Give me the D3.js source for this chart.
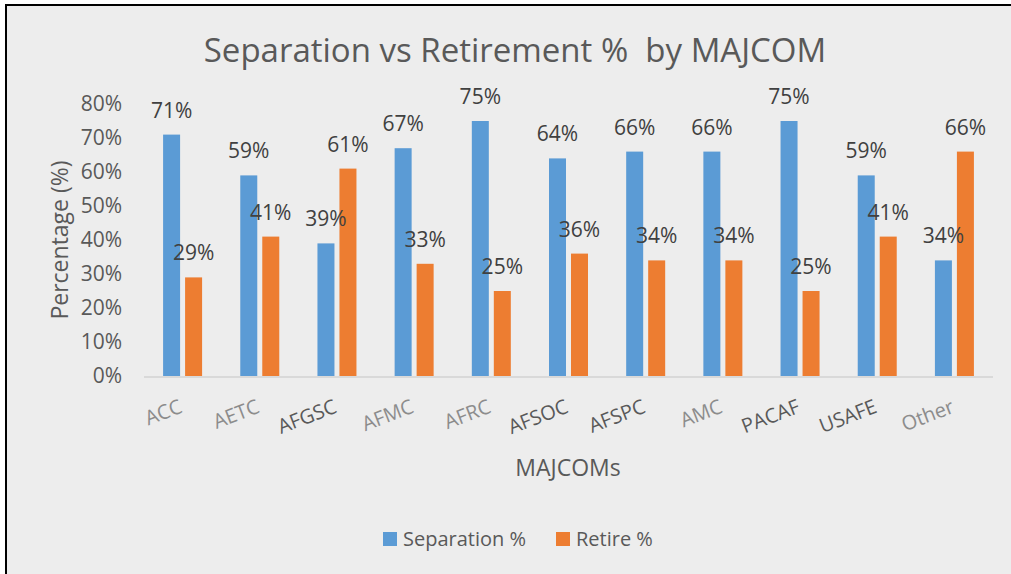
<!DOCTYPE html>
<html>
<head>
<meta charset="utf-8">
<script src="https://cdn.jsdelivr.net/npm/d3@7"></script>
<style>
  body { margin: 0; background: #fff; }
  text { font-family: "Open Sans", "Noto Sans", sans-serif; }
</style>
</head>
<body>
<svg id="chart"></svg>
<script>
const majcoms = ["ACC", "AETC", "AFGSC", "AFMC", "AFRC", "AFSOC", "AFSPC", "AMC", "PACAF", "USAFE", "Other"];
const separation = [0.71, 0.59, 0.39, 0.67, 0.75, 0.64, 0.66, 0.66, 0.75, 0.59, 0.34];
const retire = [0.29, 0.41, 0.61, 0.33, 0.25, 0.36, 0.34, 0.34, 0.25, 0.41, 0.66];
const seriesNames = ["Separation %", "Retire %"];
const yTicks = [0, 0.1, 0.2, 0.3, 0.4, 0.5, 0.6, 0.7, 0.8];

const width = 1011;
const height = 574;
const colors = { "Separation %": "#5b9bd5", "Retire %": "#ed7d31" };
// labels that came out lighter in the original picture
const lightLabels = ["ACC", "AETC", "AFMC", "AFRC", "AMC", "Other"];

let svg = d3.select("#chart").attr("width", width).attr("height", height);

// frame
svg.append("rect").attr("x", 6).attr("y", 5).attr("width", width - 6).attr("height", height - 5).attr("fill", "#ededed");
svg.append("line").attr("x1", 6).attr("x2", 6).attr("y1", 4).attr("y2", height).attr("stroke", "#000").attr("stroke-width", 2);
svg.append("line").attr("x1", 5).attr("x2", width).attr("y1", 5).attr("y2", 5).attr("stroke", "#000").attr("stroke-width", 2);

let rows = majcoms.map((m, i) => ({ name: m, values: [
  { key: "Separation %", value: separation[i] },
  { key: "Retire %", value: retire[i] }
]}));

let x = d3.scaleBand().domain(majcoms).range([144, 993]);
let x1 = d3.scaleBand().domain(seriesNames)
  .range([x.bandwidth() / 2 - 19.5, x.bandwidth() / 2 + 19.5])
  .paddingInner(0.2273);
let y = d3.scaleLinear().domain([0, 0.8]).range([376, 104]);

// title
svg.append("text")
  .attr("x", 515).attr("y", 62)
  .attr("text-anchor", "middle")
  .attr("fill", "#595959")
  .style("font-size", "33px")
  .style("white-space", "pre")
  .text("Separation vs Retirement %  by MAJCOM");

// y axis (labels only)
let yAxis = d3.axisLeft(y).tickValues(yTicks).tickFormat(d3.format(".0%")).tickSize(0).tickPadding(0);
let gy = svg.append("g").attr("transform", "translate(122,0)").call(yAxis);
gy.select(".domain").remove();
gy.selectAll("text").attr("fill", "#595959").style("font-size", "21px").style("font-family", "'Open Sans', sans-serif");

svg.append("text")
  .attr("transform", "translate(68,240) rotate(-90)")
  .attr("text-anchor", "middle")
  .attr("fill", "#595959")
  .style("font-size", "23px")
  .text("Percentage (%)");

// bars
let groups = svg.selectAll("g.group")
  .data(rows)
  .enter()
  .append("g")
  .attr("class", "group")
  .attr("transform", (d) => "translate(" + x(d.name) + ",0)");

groups.selectAll("rect")
  .data((d) => d.values)
  .enter()
  .append("rect")
  .attr("x", (d) => x1(d.key))
  .attr("y", (d) => y(d.value))
  .attr("width", x1.bandwidth())
  .attr("height", (d) => y(0) - y(d.value))
  .attr("fill", (d) => colors[d.key]);

groups.selectAll("text.val")
  .data((d) => d.values)
  .enter()
  .append("text")
  .attr("class", "val")
  .attr("x", (d) => x1(d.key) + x1.bandwidth() / 2)
  .attr("y", (d) => y(d.value) - 17)
  .attr("text-anchor", "middle")
  .attr("fill", "#404040")
  .style("font-size", "21px")
  .text((d) => d3.format(".0%")(d.value));

// x axis line
svg.append("line")
  .attr("x1", x.range()[0]).attr("x2", x.range()[1])
  .attr("y1", y(0) + 1).attr("y2", y(0) + 1)
  .attr("stroke", "#d9d9d9").attr("stroke-width", 2);

// x labels, rotated
svg.selectAll("text.cat")
  .data(majcoms)
  .enter()
  .append("text")
  .attr("class", "cat")
  .attr("text-anchor", "end")
  .attr("transform", (d) => "translate(" + (x(d) + x.bandwidth() / 2 + 1) + ",412) rotate(-21)")
  .attr("fill", (d) => lightLabels.includes(d) ? "#8c8c8c" : "#595959")
  .style("font-size", "20px")
  .text((d) => d);

svg.append("text")
  .attr("x", 568).attr("y", 476)
  .attr("text-anchor", "middle")
  .attr("fill", "#595959")
  .style("font-size", "23px")
  .text("MAJCOMs");

// legend
let legendX = [383, 556];
let legend = svg.selectAll("g.legend")
  .data(seriesNames)
  .enter()
  .append("g")
  .attr("class", "legend")
  .attr("transform", (d, i) => "translate(" + legendX[i] + ",532)");

legend.append("rect").attr("width", 14).attr("height", 14).attr("fill", (d) => colors[d]);
legend.append("text")
  .attr("x", 20).attr("y", 14)
  .attr("fill", "#595959")
  .style("font-size", "20px")
  .text((d) => d);
</script>
</body>
</html>
